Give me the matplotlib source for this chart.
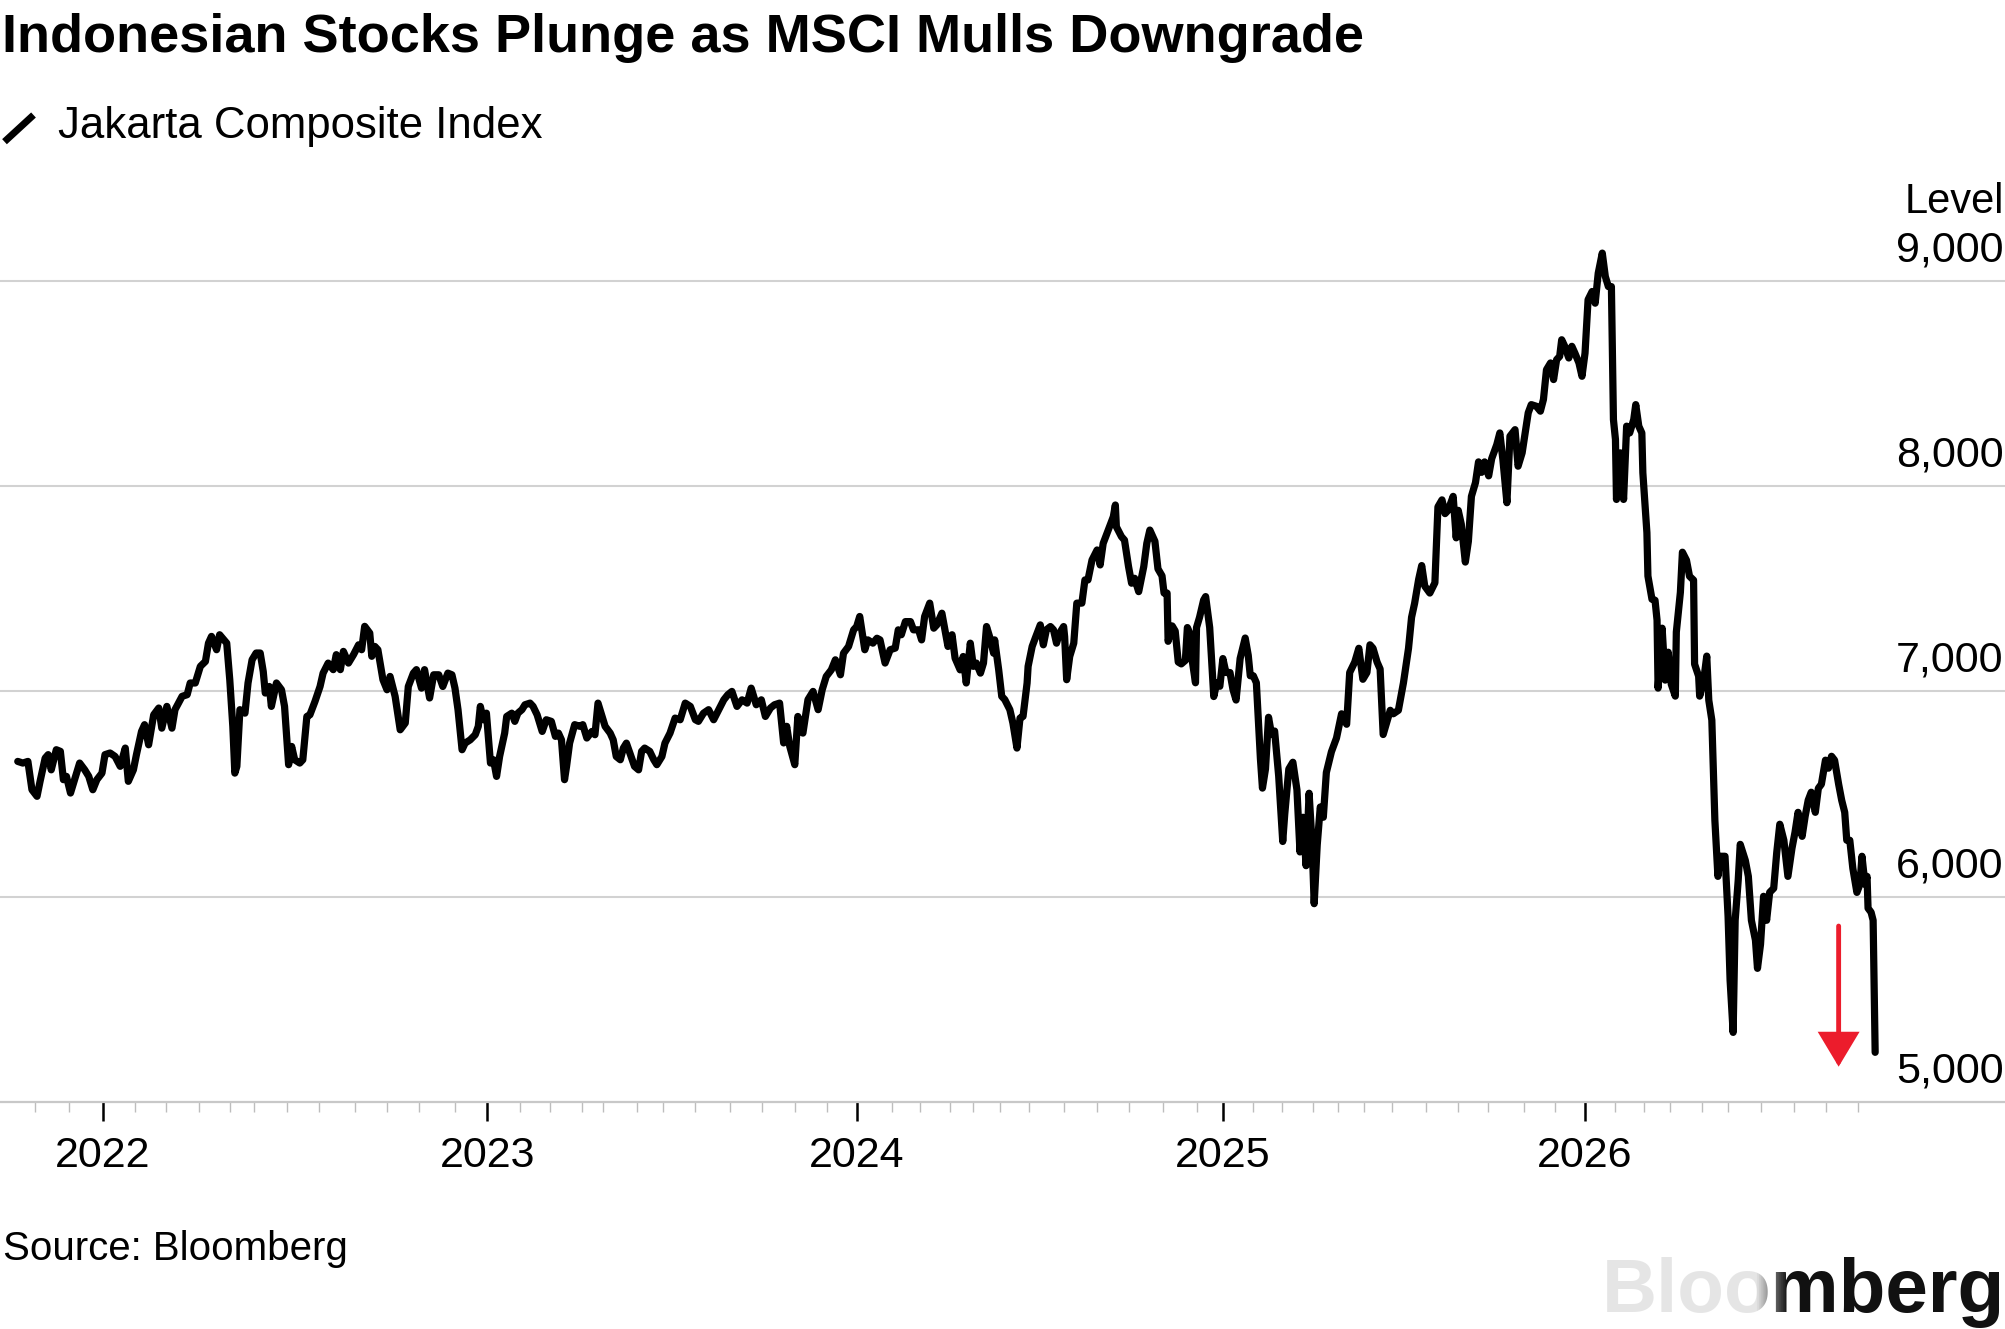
import matplotlib
matplotlib.use("Agg")
import matplotlib.pyplot as plt
from matplotlib.lines import Line2D
import numpy as np

plt.rcParams["font.family"] = ["Liberation Sans", "DejaVu Sans"]

# Jakarta Composite Index.
# The chart uses a trading-day axis, so x is a position along that axis
# (roughly days from 1 Oct 2021), not a calendar date.
t = [
    8, 13, 18, 22, 27, 30, 35, 38, 41, 46, 50, 53, 56, 60, 64, 69, 74, 78, 82, 86,
    91, 94, 99, 104, 109, 114, 117, 122, 125, 130, 133, 137, 142, 147, 150, 155, 160, 163, 170, 175,
    178, 183, 188, 193, 196, 199, 204, 207, 214, 217, 220, 222, 224, 227, 232, 235, 239, 243, 247, 250,
    252, 256, 258, 263, 268, 271, 275, 278, 281, 286, 289, 293, 296, 301, 306, 309, 314, 319, 322, 326,
    329, 334, 339, 344, 347, 350, 355, 357, 360, 363, 368, 372, 375,
    380, 385, 390, 393, 398, 401, 406, 409, 414, 418, 423, 427, 432, 436, 439, 442, 446, 449, 454, 459,
    462, 464, 467, 470, 474, 477, 480, 483, 488, 490, 495, 498, 501, 505, 508, 513, 516, 520, 525, 529,
    534, 538, 541, 544, 547, 549, 552, 557, 562, 565, 569, 574, 577, 580, 584, 587, 592, 595, 598, 602,
    605, 608, 612, 616, 620, 623, 626, 631, 635, 638, 643, 646, 651, 656, 661, 666, 671, 676, 679, 684,
    689, 694, 699, 704, 708, 712, 717, 722, 727, 731, 736, 741, 745, 750, 754,
    759, 763, 766, 769, 774, 777, 782, 787, 792, 797, 801, 805, 810, 814, 819, 822, 827, 832, 835, 838,
    843, 846, 851, 855, 858, 863, 868, 873, 876, 879, 883, 888, 891, 896, 899, 902, 907, 911, 914, 919,
    922, 925, 929, 932, 937, 940, 943, 947, 950, 953, 957, 960, 963, 966, 970, 971, 975, 978, 981, 986,
    989, 993, 996, 999, 1003, 1004, 1008, 1011, 1016, 1019, 1022, 1026, 1029, 1032, 1035, 1039, 1040, 1042, 1045, 1049,
    1052, 1057, 1060, 1063, 1067, 1072, 1075, 1078, 1083, 1088, 1090, 1091, 1096, 1099, 1103, 1106, 1109, 1113, 1118, 1121,
    1124,
    1129, 1132, 1136, 1138, 1141, 1142, 1146, 1149, 1152, 1155, 1159, 1161, 1164, 1165, 1169, 1170, 1173, 1177, 1179, 1183,
    1187, 1190, 1193, 1196, 1199, 1203, 1206, 1209, 1213, 1218, 1221, 1223, 1226, 1229, 1233, 1235, 1238, 1241, 1244, 1247,
    1251, 1255, 1257, 1261, 1265, 1269, 1272, 1275, 1278, 1281, 1284, 1286, 1289, 1292, 1295, 1298, 1303, 1308, 1313, 1318,
    1321, 1326, 1330, 1334, 1338, 1341, 1344, 1348, 1351, 1354, 1358, 1361, 1364, 1369, 1374, 1379, 1382, 1385, 1389, 1392,
    1395, 1400, 1405, 1408, 1412, 1415, 1418, 1423, 1426, 1428, 1431, 1435, 1438, 1441, 1445, 1448, 1451, 1454, 1458, 1461,
    1466,
    1469, 1472, 1476, 1479, 1484, 1487, 1491, 1494, 1497, 1500, 1505, 1509, 1512, 1515, 1519, 1522, 1525, 1528, 1530, 1533,
    1537, 1540, 1543, 1547, 1550, 1553, 1556, 1560, 1563, 1566, 1570, 1573, 1576, 1579, 1581, 1583, 1584, 1588, 1591, 1594,
    1597, 1601, 1603, 1606, 1609, 1610, 1614, 1615, 1619,
    1622, 1624, 1625, 1629, 1632, 1635, 1638, 1642, 1643, 1647, 1649, 1653, 1656, 1660, 1661, 1665, 1666, 1670, 1673, 1675,
    1678, 1681, 1684, 1686, 1691, 1694, 1696, 1699, 1701, 1704, 1706, 1711, 1714, 1717, 1721, 1723, 1726, 1729, 1732, 1735,
    1739, 1742, 1745, 1749, 1753, 1757, 1760, 1763, 1767, 1770, 1773, 1776, 1780, 1783, 1786, 1790, 1793, 1796, 1799, 1803,
    1806, 1809, 1811, 1814, 1817, 1821, 1824, 1826, 1829, 1831, 1832, 1835, 1837, 1839,
]
levels = [
    6659, 6651, 6659, 6521, 6489, 6562, 6675, 6692, 6618, 6716, 6708, 6570, 6586, 6505, 6570, 6651, 6618, 6586, 6521, 6570,
    6602, 6692, 6700, 6683, 6635, 6724, 6562, 6618, 6692, 6805, 6838, 6740, 6886, 6919, 6821, 6927, 6821, 6911, 6976, 6984,
    7041, 7041, 7122, 7146, 7235, 7268, 7203, 7276, 7235, 7057, 6830, 6602, 6635, 6911, 6894, 7041, 7154, 7187, 7187, 7097,
    6992, 7024, 6927, 7041, 7008, 6927, 6643, 6732, 6667, 6651, 6667, 6878, 6886, 6951, 7024, 7089, 7138, 7106, 7179, 7106,
    7195, 7138, 7179, 7227, 7203, 7317, 7284, 7171, 7219, 7203, 7057, 7008, 7073,
    6976, 6813, 6846, 7024, 7089, 7106, 7016, 7106, 6968, 7081, 7081, 7024, 7089, 7081, 7016, 6911, 6716, 6748, 6764, 6789,
    6830, 6927, 6862, 6894, 6651, 6667, 6586, 6683, 6797, 6878, 6894, 6854, 6894, 6911, 6935, 6943, 6927, 6886, 6805, 6862,
    6854, 6781, 6797, 6764, 6570, 6635, 6748, 6838, 6830, 6838, 6773, 6805, 6789, 6943, 6878, 6830, 6797, 6764, 6683, 6667,
    6724, 6748, 6692, 6635, 6618, 6708, 6724, 6708, 6667, 6643, 6683, 6748, 6797, 6870, 6862, 6943, 6927, 6862, 6854, 6894,
    6911, 6862, 6911, 6959, 6984, 7000, 6927, 6959, 6943, 7016, 6935, 6959, 6878, 6919, 6935,
    6943, 6749, 6830, 6733, 6643, 6878, 6797, 6960, 7000, 6911, 7008, 7073, 7105, 7154, 7081, 7186, 7219, 7300, 7316, 7365,
    7203, 7251, 7235, 7259, 7251, 7138, 7203, 7211, 7300, 7276, 7340, 7340, 7300, 7300, 7251, 7365, 7430, 7308, 7324, 7381,
    7300, 7219, 7276, 7162, 7105, 7170, 7041, 7235, 7122, 7138, 7089, 7138, 7316, 7267, 7186, 7251, 7105, 6976, 6960, 6911,
    6846, 6724, 6870, 6878, 7041, 7122, 7219, 7259, 7324, 7227, 7300, 7316, 7300, 7235, 7284, 7316, 7267, 7057, 7170, 7235,
    7430, 7430, 7543, 7543, 7640, 7689, 7616, 7721, 7786, 7851, 7908, 7802, 7754, 7737, 7608, 7527, 7551, 7486, 7608, 7721,
    7786,
    7731, 7597, 7563, 7479, 7479, 7244, 7319, 7294, 7143, 7134, 7151, 7311, 7277, 7176, 7042, 7311, 7361, 7445, 7462, 7311,
    6975, 7042, 7025, 7160, 7092, 7092, 7008, 6958, 7160, 7260, 7176, 7076, 7076, 7042, 6672, 6529, 6622, 6874, 6790, 6807,
    6588, 6269, 6403, 6622, 6655, 6521, 6218, 6387, 6151, 6504, 6252, 5966, 6252, 6437, 6387, 6605, 6706, 6773, 6891, 6840,
    7092, 7143, 7210, 7059, 7092, 7227, 7210, 7143, 7109, 6790, 6857, 6908, 6891, 6908, 7042, 7210, 7361, 7429, 7546, 7613,
    7513, 7479, 7529, 7899, 7933, 7866, 7882, 7950, 7748, 7882, 7815, 7630, 7731, 7950, 8017, 8118, 8067, 8118, 8050, 8134,
    8202,
    8259, 8130, 7919, 8243, 8275, 8097, 8162, 8259, 8357, 8397, 8389, 8365, 8422, 8567, 8600, 8519, 8616, 8632, 8713, 8681,
    8624, 8681, 8648, 8600, 8535, 8648, 8908, 8948, 8891, 9037, 9135, 9021, 8972, 8972, 8324, 8227, 7935, 8162, 7935, 8292,
    8259, 8324, 8397, 8292, 8259, 8065, 7773, 7562, 7449,
    7444, 7347, 7016, 7308, 7055, 7191, 7035, 6977, 7289, 7483, 7678, 7639, 7561, 7542, 7133, 7074, 6977, 7055, 7172, 6957,
    6860, 6372, 6099, 6197, 6197, 5905, 5593, 5339, 5885, 6080, 6255, 6177, 6099, 5885, 5788, 5651, 5768, 6002, 5885, 6021,
    6041, 6216, 6353, 6275, 6099, 6236, 6314, 6411, 6294, 6392, 6470, 6509, 6411, 6528, 6548, 6665, 6626, 6684, 6665, 6548,
    6470, 6411, 6275, 6275, 6138, 6021, 6060, 6197, 6060, 6099, 5944, 5924, 5885, 5242,
]

grid_levels = [6000, 7000, 8000, 9000]
y_labels = ["6,000", "7,000", "8,000", "9,000"]
bottom_label = "5,000"

# year starts and month starts on the trading-day axis
years = ["2022", "2023", "2024", "2025", "2026"]
year_pos = [92, 471, 835, 1196, 1553]
month_pos = [25, 59, 124, 154, 187, 217, 241, 273, 305, 340, 372, 404, 439,
             503, 533, 564, 585, 618, 644, 676, 710, 742, 774, 806,
             870, 897, 927, 950, 976, 1005, 1039, 1072, 1103, 1137, 1170,
             1226, 1254, 1285, 1309, 1335, 1363, 1396, 1428, 1457, 1493, 1523,
             1583, 1611, 1637, 1668, 1694, 1726, 1759, 1791, 1822]

# red arrow marking the latest plunge
arrow_t = 1803
arrow_from, arrow_to = 5857, 5172

W, H = 2005, 1329
fig = plt.figure(figsize=(W / 100, H / 100), dpi=100)
ax = fig.add_axes([0, 1 - 1102 / H, 1, (1102 - 198.7) / H])

ax.plot(t, levels, color="black", lw=5.2, solid_joinstyle="round",
        solid_capstyle="round", zorder=3)

ax.set_xlim(-9.5, 1967)
ax.set_ylim(5000, 9400)

for s in ["top", "left", "right"]:
    ax.spines[s].set_visible(False)
ax.spines["bottom"].set_color("#c8c8c8")
ax.spines["bottom"].set_linewidth(1.6)

ax.set_yticks(grid_levels)
ax.yaxis.grid(True, color="#d2d2d2", lw=1.5)
ax.tick_params(axis="y", left=False, labelleft=False)

for lvl, lab in zip(grid_levels + [5000], y_labels + [bottom_label]):
    ax.annotate(lab, xy=(1, lvl), xycoords=("axes fraction", "data"),
                xytext=(-1, 14), textcoords="offset points",
                ha="right", va="baseline", fontsize=31)
ax.annotate("Level", xy=(1, 9000), xycoords=("axes fraction", "data"),
            xytext=(-1, 49), textcoords="offset points",
            ha="right", va="baseline", fontsize=30)

ax.set_xticks(year_pos)
ax.set_xticklabels(years)
ax.set_xticks(month_pos, minor=True)
ax.tick_params(axis="x", which="major", length=13.7, width=1.8, color="black",
               pad=11, labelsize=31)
ax.tick_params(axis="x", which="minor", length=7.2, width=1.0, color="#bdbdbd")

ax.annotate("", xy=(arrow_t, arrow_to), xytext=(arrow_t, arrow_from),
            arrowprops=dict(arrowstyle="-|>,head_length=1.0,head_width=0.6",
                            color="#ec1c2c", lw=3.5, shrinkA=0, shrinkB=0,
                            mutation_scale=20, joinstyle="miter"),
            zorder=4)

# header and footer
fig.text(2 / W, 1 - 51.7 / H, "Indonesian Stocks Plunge as MSCI Mulls Downgrade",
         fontsize=39, fontweight="bold", va="baseline", ha="left")
fig.add_artist(Line2D([4.5 / W, 33.5 / W], [1 - 141.7 / H, 1 - 115 / H],
                      color="black", lw=5, solid_capstyle="butt"))
fig.text(58 / W, 1 - 138 / H, "Jakarta Composite Index", fontsize=31.5,
         va="baseline", ha="left")
fig.text(3 / W, 1 - 1260 / H, "Source: Bloomberg", fontsize=29,
         va="baseline", ha="left")

# faded Bloomberg mark in the corner
lax = fig.add_axes([1570 / W, 0, 435 / W, 75 / H])
lax.set_axis_off()
lax.set_xlim(0, 1)
lax.set_ylim(0, 1)
lax.text(1, 0.22, "Bloomberg", fontsize=55, fontweight="bold", ha="right",
         va="baseline", color="#111111", zorder=1)
gx = np.linspace(0, 1, 200)
alpha = np.clip((0.5 - gx) / 0.08, 0, 0.9)
fade = np.ones((2, 200, 4))
fade[..., 3] = alpha
lax.imshow(fade, extent=[0, 1, 0, 1], aspect="auto", zorder=2)

fig.savefig("out.png", dpi=100)
